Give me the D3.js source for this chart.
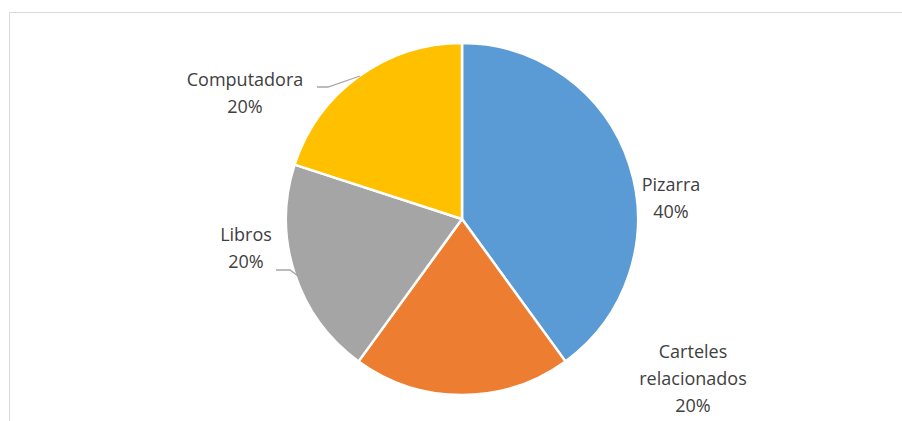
<!DOCTYPE html>
<html>
<head>
<meta charset="utf-8">
<script src="https://cdn.jsdelivr.net/npm/d3@7"></script>
<style>
  body { margin: 0; background: #fff; }
  text { font-family: "Open Sans", sans-serif; fill: #404040; }
</style>
</head>
<body>
<div id="chart"></div>
<script>
let categories = ["Pizarra", "Carteles relacionados", "Libros", "Computadora"];
let values = [40, 20, 20, 20];
let colors = ["#5B9BD5", "#ED7D31", "#A5A5A5", "#FFC000"];

// label lines as they wrap in the original
let labelLines = [["Pizarra", "40%"], ["Carteles", "relacionados", "20%"], ["Libros", "20%"], ["Computadora", "20%"]];
let labelPos = [[671, 185], [693, 352], [246, 235], [245, 80]];

let W = 902, H = 421;
let cx = 462, cy = 219, r = 176;

let svg = d3.select('#chart')
    .append('svg')
    .attr('width', W)
    .attr('height', H);

svg.append('path')
    .attr('d', 'M9.5,' + H + 'V12.5H' + W)
    .attr('fill', 'none')
    .attr('stroke', '#d9d9d9')
    .attr('stroke-width', 1);

let pie = d3.pie().sort(null).value(function (d) { return d; });
let arc = d3.arc().innerRadius(0).outerRadius(r);
let arcs = pie(values);

let g = svg.append('g').attr('transform', 'translate(' + cx + ',' + cy + ')');

g.selectAll('path')
    .data(arcs)
    .enter()
    .append('path')
    .attr('d', arc)
    .attr('fill', function (d, i) { return colors[i]; })
    .attr('stroke', '#fff')
    .attr('stroke-width', 2.5)
    .attr('stroke-linejoin', 'round');

// leader lines for the two left labels
let leaders = [
    [[317, 87], [328, 87], [360, 76]],
    [[276, 270], [290, 270], [298, 276]]
];
svg.selectAll('polyline')
    .data(leaders)
    .enter()
    .append('polyline')
    .attr('points', function (d) { return d.map(function (p) { return p.join(','); }).join(' '); })
    .attr('fill', 'none')
    .attr('stroke', '#a6a6a6')
    .attr('stroke-width', 1.3);

let labels = svg.selectAll('.lbl')
    .data(labelLines)
    .enter()
    .append('text')
    .attr('class', 'lbl')
    .attr('text-anchor', 'middle')
    .style('font-size', '18px');

labels.each(function (lines, i) {
    let t = d3.select(this);
    lines.forEach(function (s, j) {
        t.append('tspan')
            .attr('x', labelPos[i][0])
            .attr('y', labelPos[i][1] + j * 27)
            .attr('dy', '0.35em')
            .text(s);
    });
});
</script>
</body>
</html>
